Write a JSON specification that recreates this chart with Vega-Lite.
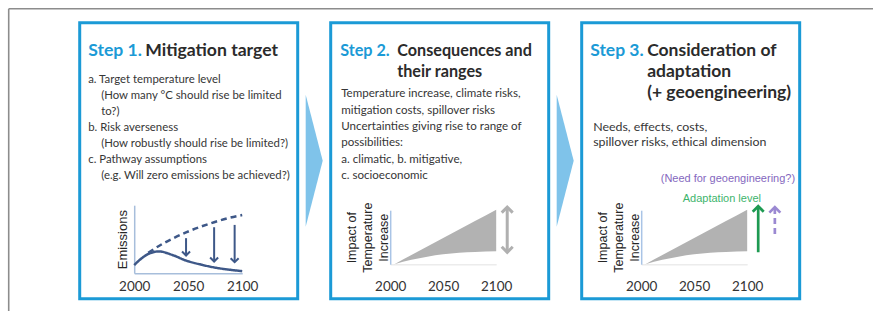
{
  "$schema": "https://vega.github.io/schema/vega-lite/v6.json",
  "background": "white",
  "padding": {"left": 5.7, "top": 5.7, "right": 0, "bottom": 0},
  "bounds": "flush",
  "spacing": 8,
  "config": {"view": {"stroke": null}, "text": {"font": "Lato"}},
  "datasets": {
    "head": [
      {"panel": 1, "line": 0, "part": "step", "text": "Step 1."},
      {"panel": 1, "line": 0, "part": "title", "text": "Mitigation target"},
      {"panel": 2, "line": 0, "part": "step", "text": "Step 2."},
      {"panel": 2, "line": 0, "part": "title", "text": "Consequences and"},
      {"panel": 2, "line": 1, "part": "title", "text": "their ranges"},
      {"panel": 3, "line": 0, "part": "step", "text": "Step 3."},
      {"panel": 3, "line": 0, "part": "title", "text": "Consideration of"},
      {"panel": 3, "line": 1, "part": "title", "text": "adaptation"},
      {"panel": 3, "line": 2, "part": "title", "text": "(+ geoengineering)"}
    ],
    "body": [
      {"panel": 1, "line": 0, "level": "item", "text": "a. Target temperature level"},
      {"panel": 1, "line": 1, "level": "sub", "text": "(How many °C should rise be limited"},
      {"panel": 1, "line": 2, "level": "sub", "text": "to?)"},
      {"panel": 1, "line": 3, "level": "item", "text": "b. Risk averseness"},
      {"panel": 1, "line": 4, "level": "sub", "text": "(How robustly should rise be limited?)"},
      {"panel": 1, "line": 5, "level": "item", "text": "c. Pathway assumptions"},
      {"panel": 1, "line": 6, "level": "sub", "text": "(e.g. Will zero emissions be achieved?)"},
      {"panel": 2, "line": 0, "level": "item", "text": "Temperature increase, climate risks,"},
      {"panel": 2, "line": 1, "level": "item", "text": "mitigation costs, spillover risks"},
      {"panel": 2, "line": 2, "level": "item", "text": "Uncertainties giving rise to range of"},
      {"panel": 2, "line": 3, "level": "item", "text": "possibilities:"},
      {"panel": 2, "line": 4, "level": "item", "text": "a.  climatic, b. mitigative,"},
      {"panel": 2, "line": 5, "level": "item", "text": "c. socioeconomic"},
      {"panel": 3, "line": 0, "level": "item", "text": "Needs, effects, costs,"},
      {"panel": 3, "line": 1, "level": "item", "text": "spillover risks, ethical dimension"}
    ],
    "emis": [
      {"series": "mitigated", "year": 2000, "value": 1.2},
      {"series": "mitigated", "year": 2007, "value": 2.2},
      {"series": "mitigated", "year": 2014, "value": 2.9},
      {"series": "mitigated", "year": 2023, "value": 3.2},
      {"series": "mitigated", "year": 2035, "value": 2.7},
      {"series": "mitigated", "year": 2048, "value": 1.86},
      {"series": "mitigated", "year": 2063, "value": 1.22},
      {"series": "mitigated", "year": 2078, "value": 0.74},
      {"series": "mitigated", "year": 2090, "value": 0.48},
      {"series": "mitigated", "year": 2100, "value": 0.3},
      {"series": "baseline", "year": 2013, "value": 3.0},
      {"series": "baseline", "year": 2026, "value": 4.3},
      {"series": "baseline", "year": 2037, "value": 5.2},
      {"series": "baseline", "year": 2048, "value": 6.0},
      {"series": "baseline", "year": 2061, "value": 6.8},
      {"series": "baseline", "year": 2074, "value": 7.5},
      {"series": "baseline", "year": 2087, "value": 8.1},
      {"series": "baseline", "year": 2100, "value": 8.55}
    ],
    "arrows1": [
      {"year": 2048, "from": 5.15, "to": 2.6},
      {"year": 2074, "from": 6.76, "to": 1.72},
      {"year": 2093, "from": 7.1, "to": 1.62}
    ],
    "band": [
      {"year": 2004, "lower": 0, "upper": 0},
      {"year": 2020, "lower": 0.8, "upper": 1.7},
      {"year": 2035, "lower": 1.4, "upper": 3.27},
      {"year": 2050, "lower": 1.85, "upper": 4.85},
      {"year": 2065, "lower": 2.12, "upper": 6.42},
      {"year": 2080, "lower": 2.28, "upper": 8.0},
      {"year": 2100, "lower": 2.38, "upper": 10.1}
    ],
    "range2": [{"year": 2110.4, "lo": 2.2, "hi": 10.56}],
    "arrows3": [
      {"kind": "adapt", "year": 2110.4, "from": 2.2, "to": 10.74},
      {"kind": "geo", "year": 2126.1, "from": 5.6, "to": 10.56}
    ],
    "notes3": [
      {"kind": "adapt", "year": 2076.1, "value": 12.1, "text": "Adaptation level"},
      {"kind": "geo", "year": 2081.8, "value": 15.7, "text": "(Need for geoengineering?)"}
    ]
  },
  "hconcat": [
    {
      "width": 218, "height": 276,
      "view": {"stroke": "#1b9ad6", "strokeWidth": 3, "fill": "white"},
      "resolve": {"scale": {"x": "independent", "y": "independent", "color": "independent"}},
      "layer": [
        {"data": {"values": [{}]}, "mark": {"type": "rule", "color": "#8c8c8c", "strokeWidth": 1.6},
         "encoding": {"x": {"value": -71}, "x2": {"value": 794}, "y": {"value": -14}}},
        {"data": {"values": [{}]}, "mark": {"type": "rule", "color": "#8c8c8c", "strokeWidth": 1.6},
         "encoding": {"x": {"value": -71}, "y": {"value": -14}, "y2": {"value": 289.5}}},
        {"data": {"name": "head"}, "transform": [{"filter": "datum.panel == 1"}],
         "mark": {"type": "text", "align": "left", "baseline": "alphabetic", "font": "Lato", "fontSize": 17.6, "fontWeight": "bold"},
         "encoding": {
           "x": {"field": "part", "type": "nominal", "scale": {"type": "point", "domain": ["step", "title"], "range": [8.5, 65.5], "padding": 0}, "axis": null},
           "y": {"field": "line", "type": "quantitative", "scale": {"domain": [0, 1], "range": [33.8, 54.5]}, "axis": null},
           "color": {"field": "part", "type": "nominal", "scale": {"domain": ["step", "title"], "range": ["#1b9ad6", "#2b2b2b"]}, "legend": null},
           "text": {"field": "text"}}},
        {"data": {"name": "body"}, "transform": [{"filter": "datum.panel == 1"}],
         "mark": {"type": "text", "align": "left", "baseline": "middle", "font": "Lato", "fontSize": 11.4, "color": "#363636"},
         "encoding": {
           "x": {"field": "level", "type": "nominal", "scale": {"type": "point", "domain": ["item", "sub"], "range": [8.5, 21.5], "padding": 0}, "axis": null},
           "y": {"field": "line", "type": "quantitative", "scale": {"domain": [0, 1], "range": [57.2, 73.2]}, "axis": null},
           "text": {"field": "text"}}},
        {"layer": [
          {"data": {"name": "emis"},
           "mark": {"type": "line", "color": "#3e5888", "strokeWidth": 2.5, "interpolate": "monotone"},
           "encoding": {
             "x": {"field": "year", "type": "quantitative", "scale": {"domain": [2000, 2100], "range": [54.5, 162.5]},
                   "axis": {"values": [2000, 2050, 2100], "format": "d", "title": null, "ticks": false, "grid": false, "domainColor": "#a7bedb", "domainWidth": 1.5, "offset": -25.5, "labelPadding": 6.5, "labelFont": "Lato", "labelFontSize": 13.5, "labelColor": "#333333", "labelFlush": false, "labelOverlap": false}},
             "y": {"field": "value", "type": "quantitative", "scale": {"domain": [0, 10], "range": [250.5, 182.5]},
                   "axis": {"title": "Emissions", "labels": false, "ticks": false, "grid": false, "domainColor": "#a7bedb", "domainWidth": 1.5, "offset": -54.5, "titleFont": "Liberation Sans", "titleFontSize": 13, "titleFontWeight": "normal", "titleColor": "#262626", "titlePadding": 5}},
             "detail": {"field": "series"},
             "strokeDash": {"field": "series", "type": "nominal", "scale": {"domain": ["mitigated", "baseline"], "range": [[1, 0], [6, 4]]}, "legend": null}}},
          {"data": {"name": "arrows1"}, "mark": {"type": "rule", "color": "#3e5888", "strokeWidth": 2},
           "encoding": {"x": {"field": "year", "type": "quantitative"}, "y": {"field": "from", "type": "quantitative"}, "y2": {"field": "to"}}},
          {"data": {"name": "arrows1"}, "mark": {"type": "point", "shape": "M-1,-1L0,0L1,-1", "size": 64, "filled": false, "color": "#3e5888", "strokeWidth": 2, "opacity": 1},
           "encoding": {"x": {"field": "year", "type": "quantitative"}, "y": {"field": "to", "type": "quantitative"}}}
        ]}
      ]
    },
    {
      "width": 17, "height": 276,
      "data": {"values": [{}]},
      "mark": {"type": "point", "shape": "M-0.1288,-1L0.1288,0L-0.1288,1Z", "size": 17424, "filled": true, "color": "#7fc3ea", "opacity": 1, "strokeWidth": 0},
      "encoding": {}
    },
    {
      "width": 218, "height": 276,
      "view": {"stroke": "#1b9ad6", "strokeWidth": 3, "fill": "white"},
      "resolve": {"scale": {"x": "independent", "y": "independent", "color": "independent"}},
      "layer": [
        {"data": {"name": "head"}, "transform": [{"filter": "datum.panel == 2"}],
         "mark": {"type": "text", "align": "left", "baseline": "alphabetic", "font": "Lato", "fontSize": 16.2, "fontWeight": "bold"},
         "encoding": {
           "x": {"field": "part", "type": "nominal", "scale": {"type": "point", "domain": ["step", "title"], "range": [9.5, 66.5], "padding": 0}, "axis": null},
           "y": {"field": "line", "type": "quantitative", "scale": {"domain": [0, 1], "range": [33.8, 54.5]}, "axis": null},
           "color": {"field": "part", "type": "nominal", "scale": {"domain": ["step", "title"], "range": ["#1b9ad6", "#2b2b2b"]}, "legend": null},
           "text": {"field": "text"}}},
        {"data": {"name": "body"}, "transform": [{"filter": "datum.panel == 2"}],
         "mark": {"type": "text", "align": "left", "baseline": "middle", "font": "Lato", "fontSize": 11.6, "color": "#363636"},
         "encoding": {
           "x": {"field": "level", "type": "nominal", "scale": {"type": "point", "domain": ["item", "sub"], "range": [10.5, 24], "padding": 0}, "axis": null},
           "y": {"field": "line", "type": "quantitative", "scale": {"domain": [0, 1], "range": [71.5, 87.9]}, "axis": null},
           "text": {"field": "text"}}},
        {"layer": [
          {"data": {"name": "band"},
           "mark": {"type": "area", "color": "#b2b2b2", "opacity": 1, "interpolate": "monotone"},
           "encoding": {
             "x": {"field": "year", "type": "quantitative", "scale": {"domain": [2000, 2100], "range": [59.5, 165.5]},
                   "axis": {"values": [2000, 2050, 2100], "format": "d", "title": null, "ticks": false, "grid": false, "domainColor": "#ececec", "domainWidth": 1.5, "offset": -34.5, "labelPadding": 15.5, "labelFont": "Lato", "labelFontSize": 13.5, "labelColor": "#333333", "labelFlush": false, "labelOverlap": false}},
             "y": {"field": "lower", "type": "quantitative", "scale": {"domain": [0, 10], "range": [241.5, 187.5]},
                   "axis": {"title": ["Impact of", "Temperature", "Increase"], "labels": false, "ticks": false, "grid": false, "domainColor": "#a9c4e6", "domainWidth": 1.5, "offset": -59.5, "titleFont": "Liberation Sans", "titleFontSize": 12.5, "titleFontWeight": "normal", "titleColor": "#262626", "titlePadding": 0, "titleLineHeight": 16}},
             "y2": {"field": "upper"}}},
          {"data": {"name": "range2"}, "mark": {"type": "rule", "color": "#b0b0b0", "strokeWidth": 3},
           "encoding": {"x": {"field": "year", "type": "quantitative"}, "y": {"field": "lo", "type": "quantitative"}, "y2": {"field": "hi"}}},
          {"data": {"name": "range2"}, "mark": {"type": "point", "shape": "M-1,1L0,0L1,1", "size": 121, "filled": false, "color": "#b0b0b0", "strokeWidth": 3, "opacity": 1},
           "encoding": {"x": {"field": "year", "type": "quantitative"}, "y": {"field": "hi", "type": "quantitative"}}},
          {"data": {"name": "range2"}, "mark": {"type": "point", "shape": "M-1,-1L0,0L1,-1", "size": 121, "filled": false, "color": "#b0b0b0", "strokeWidth": 3, "opacity": 1},
           "encoding": {"x": {"field": "year", "type": "quantitative"}, "y": {"field": "lo", "type": "quantitative"}}}
        ]}
      ]
    },
    {
      "width": 17, "height": 276,
      "data": {"values": [{}]},
      "mark": {"type": "point", "shape": "M-0.1288,-1L0.1288,0L-0.1288,1Z", "size": 17424, "filled": true, "color": "#7fc3ea", "opacity": 1, "strokeWidth": 0},
      "encoding": {}
    },
    {
      "width": 218, "height": 276,
      "view": {"stroke": "#1b9ad6", "strokeWidth": 3, "fill": "white"},
      "resolve": {"scale": {"x": "independent", "y": "independent", "color": "independent"}},
      "layer": [
        {"data": {"name": "head"}, "transform": [{"filter": "datum.panel == 3"}],
         "mark": {"type": "text", "align": "left", "baseline": "alphabetic", "font": "Lato", "fontSize": 17.5, "fontWeight": "bold"},
         "encoding": {
           "x": {"field": "part", "type": "nominal", "scale": {"type": "point", "domain": ["step", "title"], "range": [8.5, 65.5], "padding": 0}, "axis": null},
           "y": {"field": "line", "type": "quantitative", "scale": {"domain": [0, 1], "range": [33.8, 54.5]}, "axis": null},
           "color": {"field": "part", "type": "nominal", "scale": {"domain": ["step", "title"], "range": ["#1b9ad6", "#2b2b2b"]}, "legend": null},
           "text": {"field": "text"}}},
        {"data": {"name": "body"}, "transform": [{"filter": "datum.panel == 3"}],
         "mark": {"type": "text", "align": "left", "baseline": "middle", "font": "Lato", "fontSize": 12.4, "color": "#363636"},
         "encoding": {
           "x": {"field": "level", "type": "nominal", "scale": {"type": "point", "domain": ["item", "sub"], "range": [11.5, 25], "padding": 0}, "axis": null},
           "y": {"field": "line", "type": "quantitative", "scale": {"domain": [0, 1], "range": [104.5, 119.5]}, "axis": null},
           "text": {"field": "text"}}},
        {"layer": [
          {"data": {"name": "band"},
           "mark": {"type": "area", "color": "#b2b2b2", "opacity": 1, "interpolate": "monotone"},
           "encoding": {
             "x": {"field": "year", "type": "quantitative", "scale": {"domain": [2000, 2100], "range": [59.5, 165.5]},
                   "axis": {"values": [2000, 2050, 2100], "format": "d", "title": null, "ticks": false, "grid": false, "domainColor": "#ececec", "domainWidth": 1.5, "offset": -34.5, "labelPadding": 15.5, "labelFont": "Lato", "labelFontSize": 13.5, "labelColor": "#333333", "labelFlush": false, "labelOverlap": false}},
             "y": {"field": "lower", "type": "quantitative", "scale": {"domain": [0, 10], "range": [241.5, 187.5]},
                   "axis": {"title": ["Impact of", "Temperature", "Increase"], "labels": false, "ticks": false, "grid": false, "domainColor": "#a9c4e6", "domainWidth": 1.5, "offset": -59.5, "titleFont": "Liberation Sans", "titleFontSize": 12.5, "titleFontWeight": "normal", "titleColor": "#262626", "titlePadding": 0, "titleLineHeight": 16}},
             "y2": {"field": "upper"}}},
          {"data": {"name": "arrows3"}, "mark": {"type": "rule", "strokeWidth": 2.7},
           "encoding": {"x": {"field": "year", "type": "quantitative"}, "y": {"field": "from", "type": "quantitative"}, "y2": {"field": "to"},
             "color": {"field": "kind", "type": "nominal", "scale": {"domain": ["adapt", "geo"], "range": ["#1e9a52", "#9b89d2"]}, "legend": null},
             "strokeDash": {"field": "kind", "type": "nominal", "scale": {"domain": ["adapt", "geo"], "range": [[1, 0], [4, 3]]}, "legend": null}}},
          {"data": {"name": "arrows3"}, "mark": {"type": "point", "shape": "M-1,1L0,0L1,1", "size": 121, "filled": false, "strokeWidth": 2.7, "opacity": 1},
           "encoding": {"x": {"field": "year", "type": "quantitative"}, "y": {"field": "to", "type": "quantitative"},
             "color": {"field": "kind", "type": "nominal", "legend": null}}},
          {"data": {"name": "notes3"}, "transform": [{"filter": "datum.kind == 'adapt'"}],
           "mark": {"type": "text", "font": "Liberation Sans", "fontSize": 11, "color": "#3db46c", "align": "center", "baseline": "middle"},
           "encoding": {"x": {"field": "year", "type": "quantitative"}, "y": {"field": "value", "type": "quantitative"}, "text": {"field": "text"}}},
          {"data": {"name": "notes3"}, "transform": [{"filter": "datum.kind == 'geo'"}],
           "mark": {"type": "text", "font": "Liberation Sans", "fontSize": 11, "color": "#8467be", "align": "center", "baseline": "middle"},
           "encoding": {"x": {"field": "year", "type": "quantitative"}, "y": {"field": "value", "type": "quantitative"}, "text": {"field": "text"}}}
        ]}
      ]
    }
  ]
}
